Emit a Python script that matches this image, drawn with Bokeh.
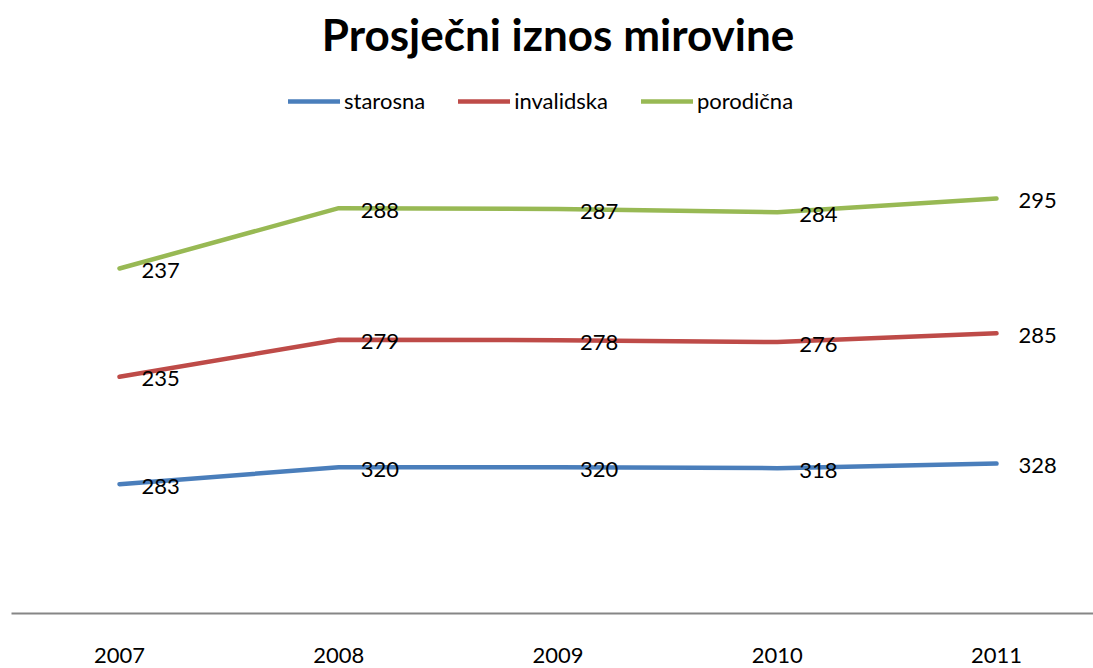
from bokeh.plotting import figure
from bokeh.models import FixedTicker, Legend, LegendItem, Range1d, ColumnDataSource
from bokeh.core.properties import value
from bokeh.embed import file_html
from bokeh.resources import INLINE

years = [2007, 2008, 2009, 2010, 2011]
starosna = [283, 320, 320, 318, 328]
invalidska = [235, 279, 278, 276, 285]
porodicna = [237, 288, 287, 284, 295]
series_names = ["starosna", "invalidska", "porodična"]
colors = ["#4A7EBB", "#BE4B48", "#98B954"]
title_text = "Prosječni iznos mirovine"

FONT = "Lato"

p = figure(width=1093, height=668, output_backend="svg", toolbar_location=None,
           x_range=Range1d(2006.5074, 2011.4424), y_range=Range1d(0, 1341.4),
           min_border_left=11, min_border_right=0, min_border_top=0, min_border_bottom=55,
           y_axis_type=None)
p.outline_line_color = None
p.xgrid.grid_line_color = None
p.ygrid.grid_line_color = None
p.background_fill_color = "white"
p.border_fill_color = "white"

# stacked values (Excel stacked line)
s1 = starosna
s2 = [a + b for a, b in zip(s1, invalidska)]
s3 = [a + b for a, b in zip(s2, porodicna)]
stacks = [s1, s2, s3]
raw = [starosna, invalidska, porodicna]

renderers = []
for name, col, ys, vals in zip(series_names, colors, stacks, raw):
    src = ColumnDataSource(dict(x=years, y=ys, t=[str(v) for v in vals]))
    r = p.line("x", "y", source=src, line_color=col, line_width=4.5, line_cap="round", line_join="round")
    renderers.append(r)
    p.text("x", "y", text="t", source=src, x_offset=22, y_offset=2,
           text_font=value(FONT), text_font_size="22px", text_color="black",
           text_baseline="middle", text_align="left")

# title
p.text(x=[years[2]], y=[1269], text=[title_text], text_font=value(FONT),
       text_font_size="44px", text_font_style="bold", text_color="black",
       text_align="center", text_baseline="middle")

legend = Legend(items=[LegendItem(label=n, renderers=[r]) for n, r in zip(series_names, renderers)],
                orientation="horizontal", location=(277, 499),
                glyph_width=52, glyph_height=20, label_standoff=4, spacing=33,
                padding=0, margin=0, border_line_color=None, background_fill_alpha=0,
                label_text_font=FONT, label_text_font_size="22px", label_text_color="black")
p.add_layout(legend)

ax = p.xaxis[0]
ax.ticker = FixedTicker(ticks=years)
ax.major_label_overrides = {y: str(y) for y in years}
ax.axis_line_color = "#868686"
ax.axis_line_width = 2
ax.major_tick_line_color = None
ax.minor_tick_line_color = None
ax.major_tick_out = 0
ax.major_label_standoff = 34
ax.major_label_text_font = FONT
ax.major_label_text_font_size = "22px"
ax.major_label_text_color = "black"

open("out.html", "w").write(file_html(p, INLINE))
